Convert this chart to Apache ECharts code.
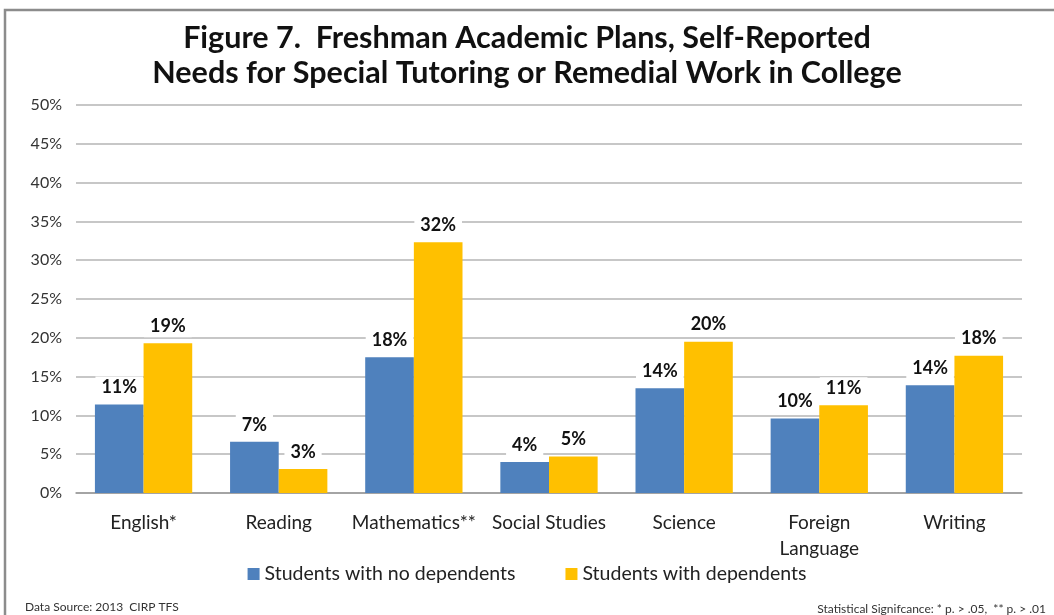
<!DOCTYPE html>
<html>
<head>
<meta charset="utf-8">
<script src="https://cdn.jsdelivr.net/npm/echarts@6/dist/echarts.min.js"></script>
<style>
  html, body { margin: 0; padding: 0; background: #fff; }
  #chart { width: 1054px; height: 615px; }
</style>
</head>
<body>
<div id="chart"></div>
<script>
// Subject areas on the category axis
const categories = ['English*', 'Reading', 'Mathematics**', 'Social Studies', 'Science', 'Foreign\nLanguage', 'Writing'];
// Percent of freshmen reporting a need for tutoring / remedial work
const noDependents = [11.4, 6.6, 17.5, 4.0, 13.5, 9.6, 13.9];
const withDependents = [19.3, 3.1, 32.3, 4.7, 19.5, 11.3, 17.7];
const seriesNames = ['Students with no dependents', 'Students with dependents'];
const yTicks = [0, 5, 10, 15, 20, 25, 30, 35, 40, 45, 50];

const FONT = 'Lato, "Open Sans", sans-serif';

const chart = echarts.init(document.getElementById('chart'), null, { renderer: 'canvas' });

const dataLabel = {
  show: true,
  position: 'top',
  distance: 6,
  formatter: p => Math.round(p.value) + '%',
  fontFamily: FONT,
  fontWeight: 'bold',
  fontSize: 18,
  color: '#111',
  backgroundColor: '#fff',
  padding: [2, 6]
};

chart.setOption({
  animation: false,
  title: {
    text: 'Figure 7.  Freshman Academic Plans, Self-Reported\nNeeds for Special Tutoring or Remedial Work in College',
    left: 'center',
    top: 16,
    textStyle: {
      fontFamily: FONT,
      fontWeight: 'bold',
      fontSize: 30.5,
      lineHeight: 35,
      color: '#111'
    }
  },
  grid: { left: 76, right: 32, top: 105, bottom: 122, containLabel: false },
  legend: {
    data: seriesNames,
    bottom: 26,
    left: 'center',
    itemWidth: 12,
    itemHeight: 12,
    itemGap: 50,
    icon: 'rect',
    textStyle: { fontFamily: FONT, fontSize: 19.5, color: '#222' }
  },
  xAxis: {
    type: 'category',
    data: categories,
    axisLine: { lineStyle: { color: '#999', width: 1.5 } },
    axisTick: { show: false },
    axisLabel: {
      fontFamily: FONT,
      fontSize: 19,
      color: '#222',
      margin: 17,
      lineHeight: 26,
      interval: 0
    }
  },
  yAxis: {
    type: 'value',
    min: yTicks[0],
    max: yTicks[yTicks.length - 1],
    interval: 5,
    axisLine: { show: false },
    axisTick: { show: false },
    splitLine: { lineStyle: { color: '#b4b4b4', width: 1.5 } },
    axisLabel: {
      fontFamily: FONT,
      fontSize: 16,
      color: '#333',
      margin: 14,
      formatter: v => v + '%'
    }
  },
  series: [
    {
      name: seriesNames[0],
      type: 'bar',
      data: noDependents,
      barWidth: '36%',
      barGap: '0%',
      itemStyle: { color: '#4F81BD' },
      label: dataLabel
    },
    {
      name: seriesNames[1],
      type: 'bar',
      data: withDependents,
      barWidth: '36%',
      barGap: '0%',
      itemStyle: { color: '#FFC000' },
      label: dataLabel
    }
  ],
  graphic: [
    {
      type: 'polyline',
      shape: { points: [[5, 640], [5, 10], [1060, 10]] },
      style: { stroke: '#8c8c8c', lineWidth: 2.5, fill: null },
      silent: true
    },
    {
      type: 'text',
      left: 25,
      top: 601,
      style: { text: 'Data Source: 2013  CIRP TFS', fontFamily: FONT, fontSize: 12, fill: '#333' }
    },
    {
      type: 'text',
      right: 8,
      top: 603,
      style: { text: 'Statistical Signifcance: * p. > .05,  ** p. > .01', fontFamily: FONT, fontSize: 12, fill: '#333' }
    }
  ]
});
</script>
</body>
</html>
